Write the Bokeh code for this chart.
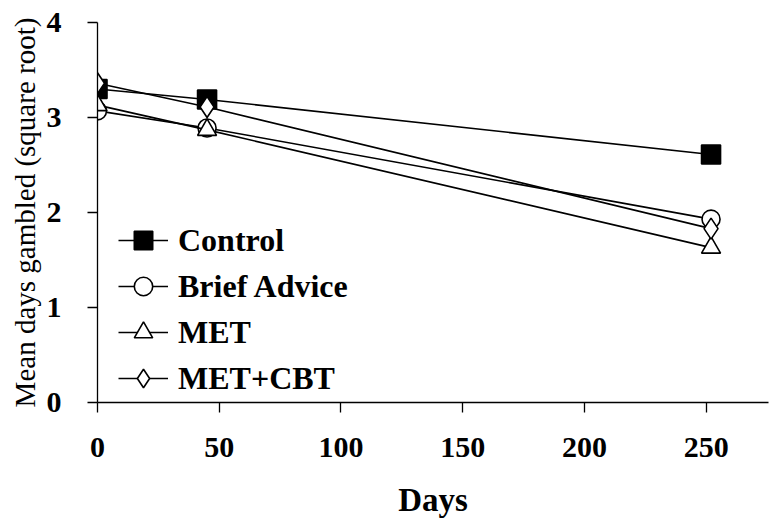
from bokeh.plotting import figure
from bokeh.models import Range1d, FixedTicker, Legend, LegendItem
from bokeh.embed import file_html
from bokeh.resources import INLINE

days = [0, 45, 252]
control = [3.30, 3.19, 2.61]
brief_advice = [3.07, 2.89, 1.93]
met = [3.13, 2.87, 1.63]
met_cbt = [3.36, 3.11, 1.83]

series = [
    ("Control", control, "square", "black", 19),
    ("Brief Advice", brief_advice, "circle", "white", 18),
    ("MET", met, "triangle", "white", 19),
    ("MET+CBT", met_cbt, "diamond", "white", 21),
]

FONT = "Liberation Serif"

p = figure(width=769, height=525, output_backend="svg", toolbar_location=None,
           x_range=Range1d(0, 275.6), y_range=Range1d(0, 4))
p.min_border_left = 97
p.min_border_right = 1
p.min_border_top = 22
p.min_border_bottom = 123
p.outline_line_color = None
p.grid.visible = False
p.background_fill_color = "white"
p.border_fill_color = "white"

p.xaxis.ticker = FixedTicker(ticks=[0, 50, 100, 150, 200, 250])
p.yaxis.ticker = FixedTicker(ticks=[0, 1, 2, 3, 4])
for ax in (p.xaxis, p.yaxis):
    ax.minor_tick_line_color = None
    ax.major_tick_out = 10
    ax.major_tick_in = 0
    ax.axis_line_color = "black"
    ax.axis_line_width = 1.3
    ax.major_tick_line_width = 1.3
    ax.major_label_text_font = FONT
    ax.major_label_text_font_style = "bold"
    ax.major_label_text_font_size = "30px"
    ax.major_label_text_color = "black"
    ax.axis_label_text_font = FONT
    ax.axis_label_text_color = "black"

p.xaxis.axis_label = "Days"
p.xaxis.axis_label_text_font_style = "bold"
p.xaxis.axis_label_text_font_size = "33px"
p.xaxis.major_label_standoff = 25
p.xaxis.axis_label_standoff = 22

p.yaxis.axis_label = "Mean days gambled (square root)"
p.yaxis.axis_label_text_font_style = "normal"
p.yaxis.axis_label_text_font_size = "29px"
p.yaxis.major_label_standoff = 26
p.yaxis.axis_label_standoff = 3

items = []
for name, vals, marker, fill, sz in series:
    ln = p.line(days, vals, line_color="black", line_width=1.6)
    sc = p.scatter(days, vals, marker=marker, size=sz, fill_color=fill,
                   line_color="black", line_width=1.6)
    items.append(LegendItem(label=name, renderers=[ln, sc]))

legend = Legend(items=items, location=(21, 1))
legend.glyph_width = 50
legend.glyph_height = 46
legend.label_height = 46
legend.spacing = 0
legend.padding = 0
legend.margin = 0
legend.label_standoff = 10
legend.border_line_alpha = 0
legend.background_fill_alpha = 0
legend.label_text_font = FONT
legend.label_text_font_style = "bold"
legend.label_text_font_size = "32px"
legend.label_text_color = "black"
p.add_layout(legend, "center")

open("out.html", "w").write(file_html(p, INLINE))
